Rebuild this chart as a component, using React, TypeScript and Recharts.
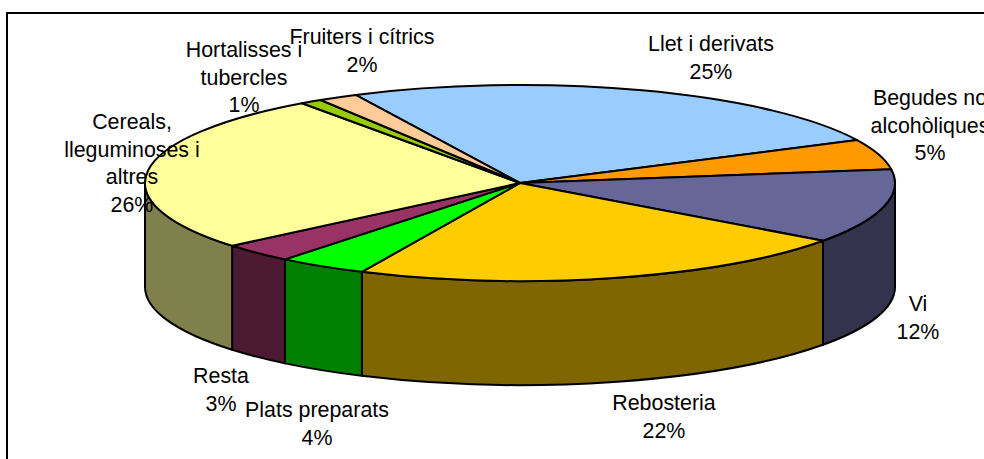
import React from "react";
import { PieChart, Pie } from "recharts";

const categories = [
  "Llet i derivats",
  "Begudes no\nalcohòliques",
  "Vi",
  "Rebosteria",
  "Plats preparats",
  "Resta",
  "Cereals,\nlleguminoses i\naltres",
  "Hortalisses i\ntubercles",
  "Fruiters i cítrics",
];
// the printed labels are these rounded
const values = [25, 5, 12.25, 21.9, 3.85, 3.15, 26.2, 0.95, 1.7];
const topColors = ["#99CCFF", "#FF9900", "#666699", "#FFCC00", "#00FF00", "#993366", "#FFFF99", "#99CC00", "#FFCC99"];
const sideColors = ["#4D6680", "#804D00", "#33334D", "#806600", "#008000", "#4D1A33", "#80804D", "#4D6600", "#80664D"];

// where Excel left each label: centre x, baseline of the first line
const labelAnchors = [
  [711, 51],
  [930, 105],
  [918, 311],
  [664, 410],
  [317, 417],
  [221, 383],
  [132, 129],
  [244, 57],
  [362, 44],
];

const data = categories.map((name, i) => ({
  name,
  value: values[i],
  fill: topColors[i],
  side: sideColors[i],
}));

const Y_SCALE = 98 / 375;
const DEPTH = 104;
const RAD = Math.PI / 180;

// flattened sector plus its wall, the pie has no 3D mode so the shape does it
const Sector3D = (props: any) => {
  const { cx, cy, outerRadius: rx, startAngle, endAngle, fill, payload } = props;
  const ry = rx * Y_SCALE;
  const pt = (a: number, dy = 0) =>
    `${cx + rx * Math.cos(a * RAD)} ${cy - ry * Math.sin(a * RAD) + dy}`;
  const large = startAngle - endAngle > 180 ? 1 : 0;
  const a0 = Math.min(startAngle, 0);
  const a1 = Math.max(endAngle, -180);
  const side = payload?.side ?? props.side;
  return (
    <g>
      {a0 > a1 && (
        <path
          d={`M ${pt(a0)} A ${rx} ${ry} 0 0 1 ${pt(a1)} L ${pt(a1, DEPTH)} A ${rx} ${ry} 0 0 0 ${pt(a0, DEPTH)} Z`}
          fill={side}
          stroke="#000"
          strokeWidth={2}
          strokeLinejoin="round"
        />
      )}
      <path
        d={`M ${cx} ${cy} L ${pt(startAngle)} A ${rx} ${ry} 0 ${large} 1 ${pt(endAngle)} Z`}
        fill={fill}
        stroke="#000"
        strokeWidth={2}
        strokeLinejoin="round"
      />
    </g>
  );
};

const SliceLabel = (props: any) => {
  const { index, name, value } = props;
  const [x, y] = labelAnchors[index];
  const lines = [...String(name).split("\n"), `${Math.round(value)}%`];
  return (
    <text x={x} y={y} textAnchor="middle" fontFamily="'Liberation Sans', Arial, sans-serif" fontSize={21.4} fill="#000">
      {lines.map((line, i) => (
        <tspan key={i} x={x} dy={i === 0 ? 0 : 27.5}>
          {line}
        </tspan>
      ))}
    </text>
  );
};

export default function App() {
  return (
    <div style={{ position: "absolute", left: 0, top: 0, width: 984, height: 459, overflow: "hidden", background: "#fff" }}>
      <PieChart width={984} height={459} margin={{ top: 0, right: 0, bottom: 0, left: 0 }}>
        <rect x={7} y={13} width={1100} height={600} fill="#fff" stroke="#000" strokeWidth={2} />
        <Pie
          data={data}
          dataKey="value"
          nameKey="name"
          cx={520}
          cy={183}
          innerRadius={0}
          outerRadius={375}
          startAngle={116}
          endAngle={-244}
          paddingAngle={0}
          shape={Sector3D}
          label={SliceLabel}
          labelLine={false}
          isAnimationActive={false}
          rootTabIndex={-1}
        />
      </PieChart>
    </div>
  );
}
